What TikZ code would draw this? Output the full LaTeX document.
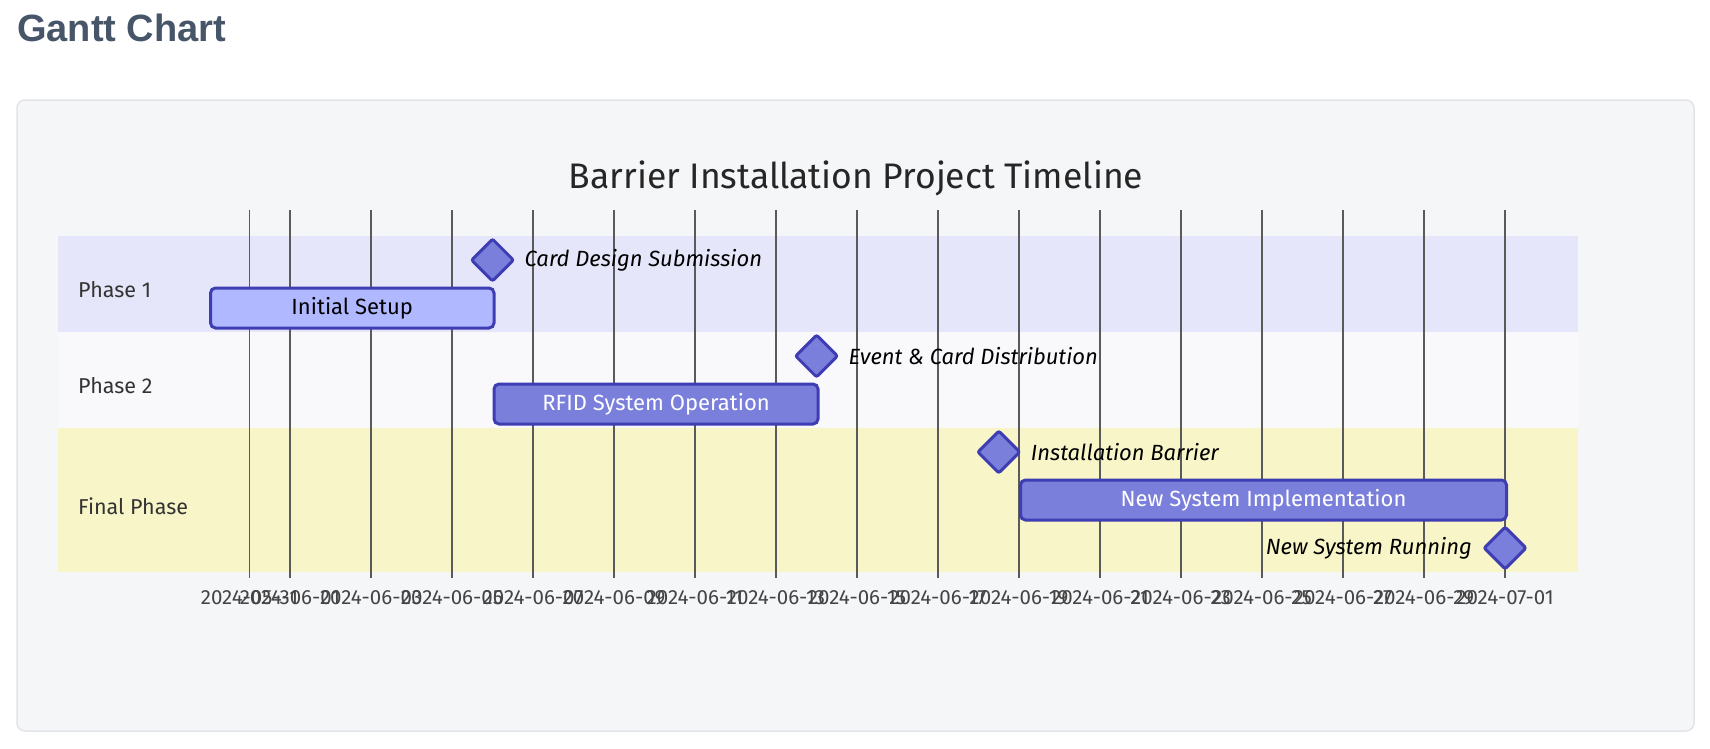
\documentclass[tikz,border=0pt]{standalone}
\usepackage{fontspec}
\setmainfont{Fira Sans}
\newfontfamily\headfont{Liberation Sans}
\usetikzlibrary{positioning,shapes.geometric}

\definecolor{headgray}{HTML}{475569}
\definecolor{cardfill}{HTML}{F5F6F8}
\definecolor{cardline}{HTML}{E2E4E8}
\definecolor{bandone}{HTML}{E6E6FA}
\definecolor{bandtwo}{HTML}{F9F9FC}
\definecolor{bandfinal}{HTML}{F8F6C8}
\definecolor{gridgray}{HTML}{5A5A5A}
\definecolor{tickgray}{HTML}{444444}
\definecolor{barfill}{HTML}{7A7FDB}
\definecolor{barlight}{HTML}{B0B8FF}
\definecolor{barline}{HTML}{3F3DB3}

\begin{document}
\begin{tikzpicture}[
    x=1pt, y=-1pt,
    band/.style={draw=none},
    gridline/.style={draw=gridgray, line width=1.3pt},
    ticklabel/.style={font=\fontsize{20.5}{24}\selectfont, text=tickgray, inner sep=0pt},
    section/.style={font=\fontsize{21.5}{25}\selectfont, text=black!80, anchor=west, inner sep=0pt},
    taskbar/.style={
        draw=barline,
        line width=3pt,
        rounded corners=5pt,
        fill=barfill,
        text=white,
        minimum height=40pt,
        anchor=west,
        inner sep=0pt,
        font=\fontsize{22}{26}\selectfont
    },
    milestone/.style={
        diamond,
        draw=barline,
        line width=3pt,
        rounded corners=2pt,
        fill=barfill,
        minimum size=43pt,
        inner sep=0pt
    },
    mlabel/.style={font=\fontsize{22}{26}\selectfont\itshape, inner sep=0pt}
]
\useasboundingbox (0,0) rectangle (1710,748);
\fill[white] (0,0) rectangle (1710,748);

% heading and card
\node[anchor=base west, inner sep=0pt, text=headgray, font=\headfont\bfseries\fontsize{38}{44}\selectfont] (head) at (17,41) {Gantt Chart};
\draw[draw=cardline, line width=1.5pt, fill=cardfill, rounded corners=8pt] (17,100) rectangle (1694,731);

\node[font=\fontsize{35.5}{42}\selectfont, text=black!85] (title) at (856,178) {Barrier Installation Project Timeline};

% section bands
\fill[bandone] (58,236) rectangle (1578,332);
\fill[bandtwo] (58,332) rectangle (1578,428);
\fill[bandfinal] (58,428) rectangle (1578,572);

% grid and axis
\foreach \d/\lab in {-1/2024-05-31, 0/2024-06-01, 2/2024-06-03, 4/2024-06-05, 6/2024-06-07,
    8/2024-06-09, 10/2024-06-11, 12/2024-06-13, 14/2024-06-15, 16/2024-06-17,
    18/2024-06-19, 20/2024-06-21, 22/2024-06-23, 24/2024-06-25, 26/2024-06-27,
    28/2024-06-29, 30/2024-07-01} {
    \draw[gridline] ({290+40.5*\d},210) -- ({290+40.5*\d},578);
    \node[ticklabel] (tick\d) at ({290+40.5*\d},598) {\lab};
}

% sections
\node[section] (sec1) at (78,290) {Phase 1};
\node[section] (sec2) at (78,386) {Phase 2};
\node[section] (sec3) at (78,506) {Final Phase};

% tasks
\node[taskbar, fill=barlight, text=black, minimum width=283.5pt] (setup) at ({290+40.5*(-2)},308) {Initial Setup};
\node[taskbar, minimum width=324pt] (rfid) at ({290+40.5*5},404) {RFID System Operation};
\node[taskbar, minimum width=486pt] (impl) at ({290+40.5*18},500) {New System Implementation};

% milestones
\node[milestone] (cardms) at ({290+40.5*5},260) {};
\node[mlabel, right=9pt of cardms] (cardlab) {Card Design Submission};
\node[milestone] (eventms) at ({290+40.5*13},356) {};
\node[mlabel, right=9pt of eventms] (eventlab) {Event \& Card Distribution};
\node[milestone] (barrierms) at ({290+40.5*17.5},452) {};
\node[mlabel, right=9pt of barrierms] (barrierlab) {Installation Barrier};
\node[milestone] (runms) at ({290+40.5*30},548) {};
\node[mlabel, left=10pt of runms] (runlab) {New System Running};
\end{tikzpicture}
\end{document}
